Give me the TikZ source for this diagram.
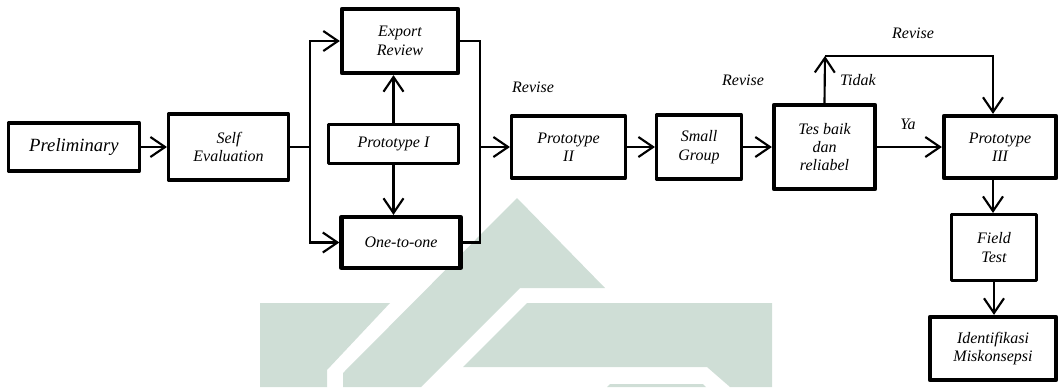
\documentclass[tikz,border=0pt]{standalone}
\usepackage{fontspec}
\setmainfont{Liberation Serif}
\usetikzlibrary{arrows.meta}
\newdimen\px \px=0.75pt
\definecolor{wmark}{RGB}{207,222,214}

\begin{document}
\begin{tikzpicture}[
    x=0.75pt, y=-0.75pt,
    >={Straight Barb[length=11pt,width=15pt]},
    box/.style={rectangle, draw=black, line width=2.3pt, fill=white, align=center, line join=round, font=\itshape\fontsize{12}{13.8}\selectfont, inner sep=2pt},
    boxb/.style={box, line width=3.2pt},
    conn/.style={line width=1.6pt},
    arr/.style={->, line width=1.6pt},
    lbl/.style={font=\itshape\fontsize{12}{13.8}\selectfont}
]
\useasboundingbox (0,0) rectangle (1061,387);

% watermark in the background
\fill[wmark] (260,303) -- (390,303) -- (327,370) -- (327,387) -- (260,387) -- cycle;
\fill[wmark] (517,198) -- (605,288) -- (520,288) -- (421,387) -- (343,387) -- (343,373) -- cycle;
\fill[wmark] (527,303) -- (772,303) -- (772,387) -- (730,387) -- (707,367) -- (463,367) -- cycle;
\fill[wmark] (610,384) -- (703,384) -- (706,387) -- (607,387) -- cycle;

% boxes
\node[box, minimum width=131\px, minimum height=48\px, font=\itshape\fontsize{14}{16}\selectfont] (pre) at (74,147) {Preliminary};
\node[box, minimum width=120\px, minimum height=66\px] (self) at (228.5,147) {Self\\Evaluation};
\node[boxb, minimum width=116\px, minimum height=64\px] (er) at (400,41) {Export\\Review};
\node[box, minimum width=130\px, minimum height=39\px] (p1) at (393.5,144) {Prototype I};
\node[boxb, minimum width=119\px, minimum height=51\px] (one) at (401,242.5) {One-to-one};
\node[box, minimum width=114\px, minimum height=62\px] (p2) at (568.5,147) {Prototype\\II};
\node[box, minimum width=85\px, minimum height=64\px] (sg) at (699,147) {Small\\Group};
\node[boxb, minimum width=101\px, minimum height=84\px] (tes) at (824.5,147) {Tes baik\\dan\\reliabel};
\node[boxb, minimum width=112\px, minimum height=62\px] (p3) at (1000,147) {Prototype\\III};
\node[box, minimum width=85\px, minimum height=66\px] (ft) at (994,247.5) {Field\\Test};
\node[boxb, minimum width=126\px, minimum height=63\px] (id) at (993,348.5) {Identifikasi\\Miskonsepsi};

% labels
\node[lbl] (rv1) at (533,87) {Revise};
\node[lbl] (rv2) at (743,80) {Revise};
\node[lbl] (rv3) at (913,33) {Revise};
\node[lbl] (tidak) at (858,80) {Tidak};
\node[lbl] (ya) at (908,124) {Ya};

% junctions
\coordinate (jl) at (310,147);
\coordinate (jr) at (480,147);
\coordinate (tl) at (825,56);
\coordinate (tr) at (993,56);

% connectors
\draw[arr] (pre.east) -- (self.west);
\draw[conn] (self.east) -- (jl);
\draw[arr] (jl) |- (er.west);
\draw[arr] (jl) |- (one.west);
\draw[arr] (p1.north) -- (p1.north |- er.south);
\draw[arr] (p1.south) -- (p1.south |- one.north);
\draw[conn] (er.east) -| (jr);
\draw[conn] (one.east) -| (jr);
\draw[arr] (jr) -- (p2.west);
\draw[arr] (p2.east) -- (sg.west);
\draw[arr] (sg.east) -- (tes.west);
\draw[arr] (tes.north) -- (tl);
\draw[arr] (tl) -- (tr) -- (tr |- p3.north);
\draw[arr] (tes.east) -- (p3.west);
\draw[arr] (tr |- p3.south) -- (tr |- ft.north);
\draw[arr] (ft.south) -- (ft.south |- id.north);

\end{tikzpicture}
\end{document}
